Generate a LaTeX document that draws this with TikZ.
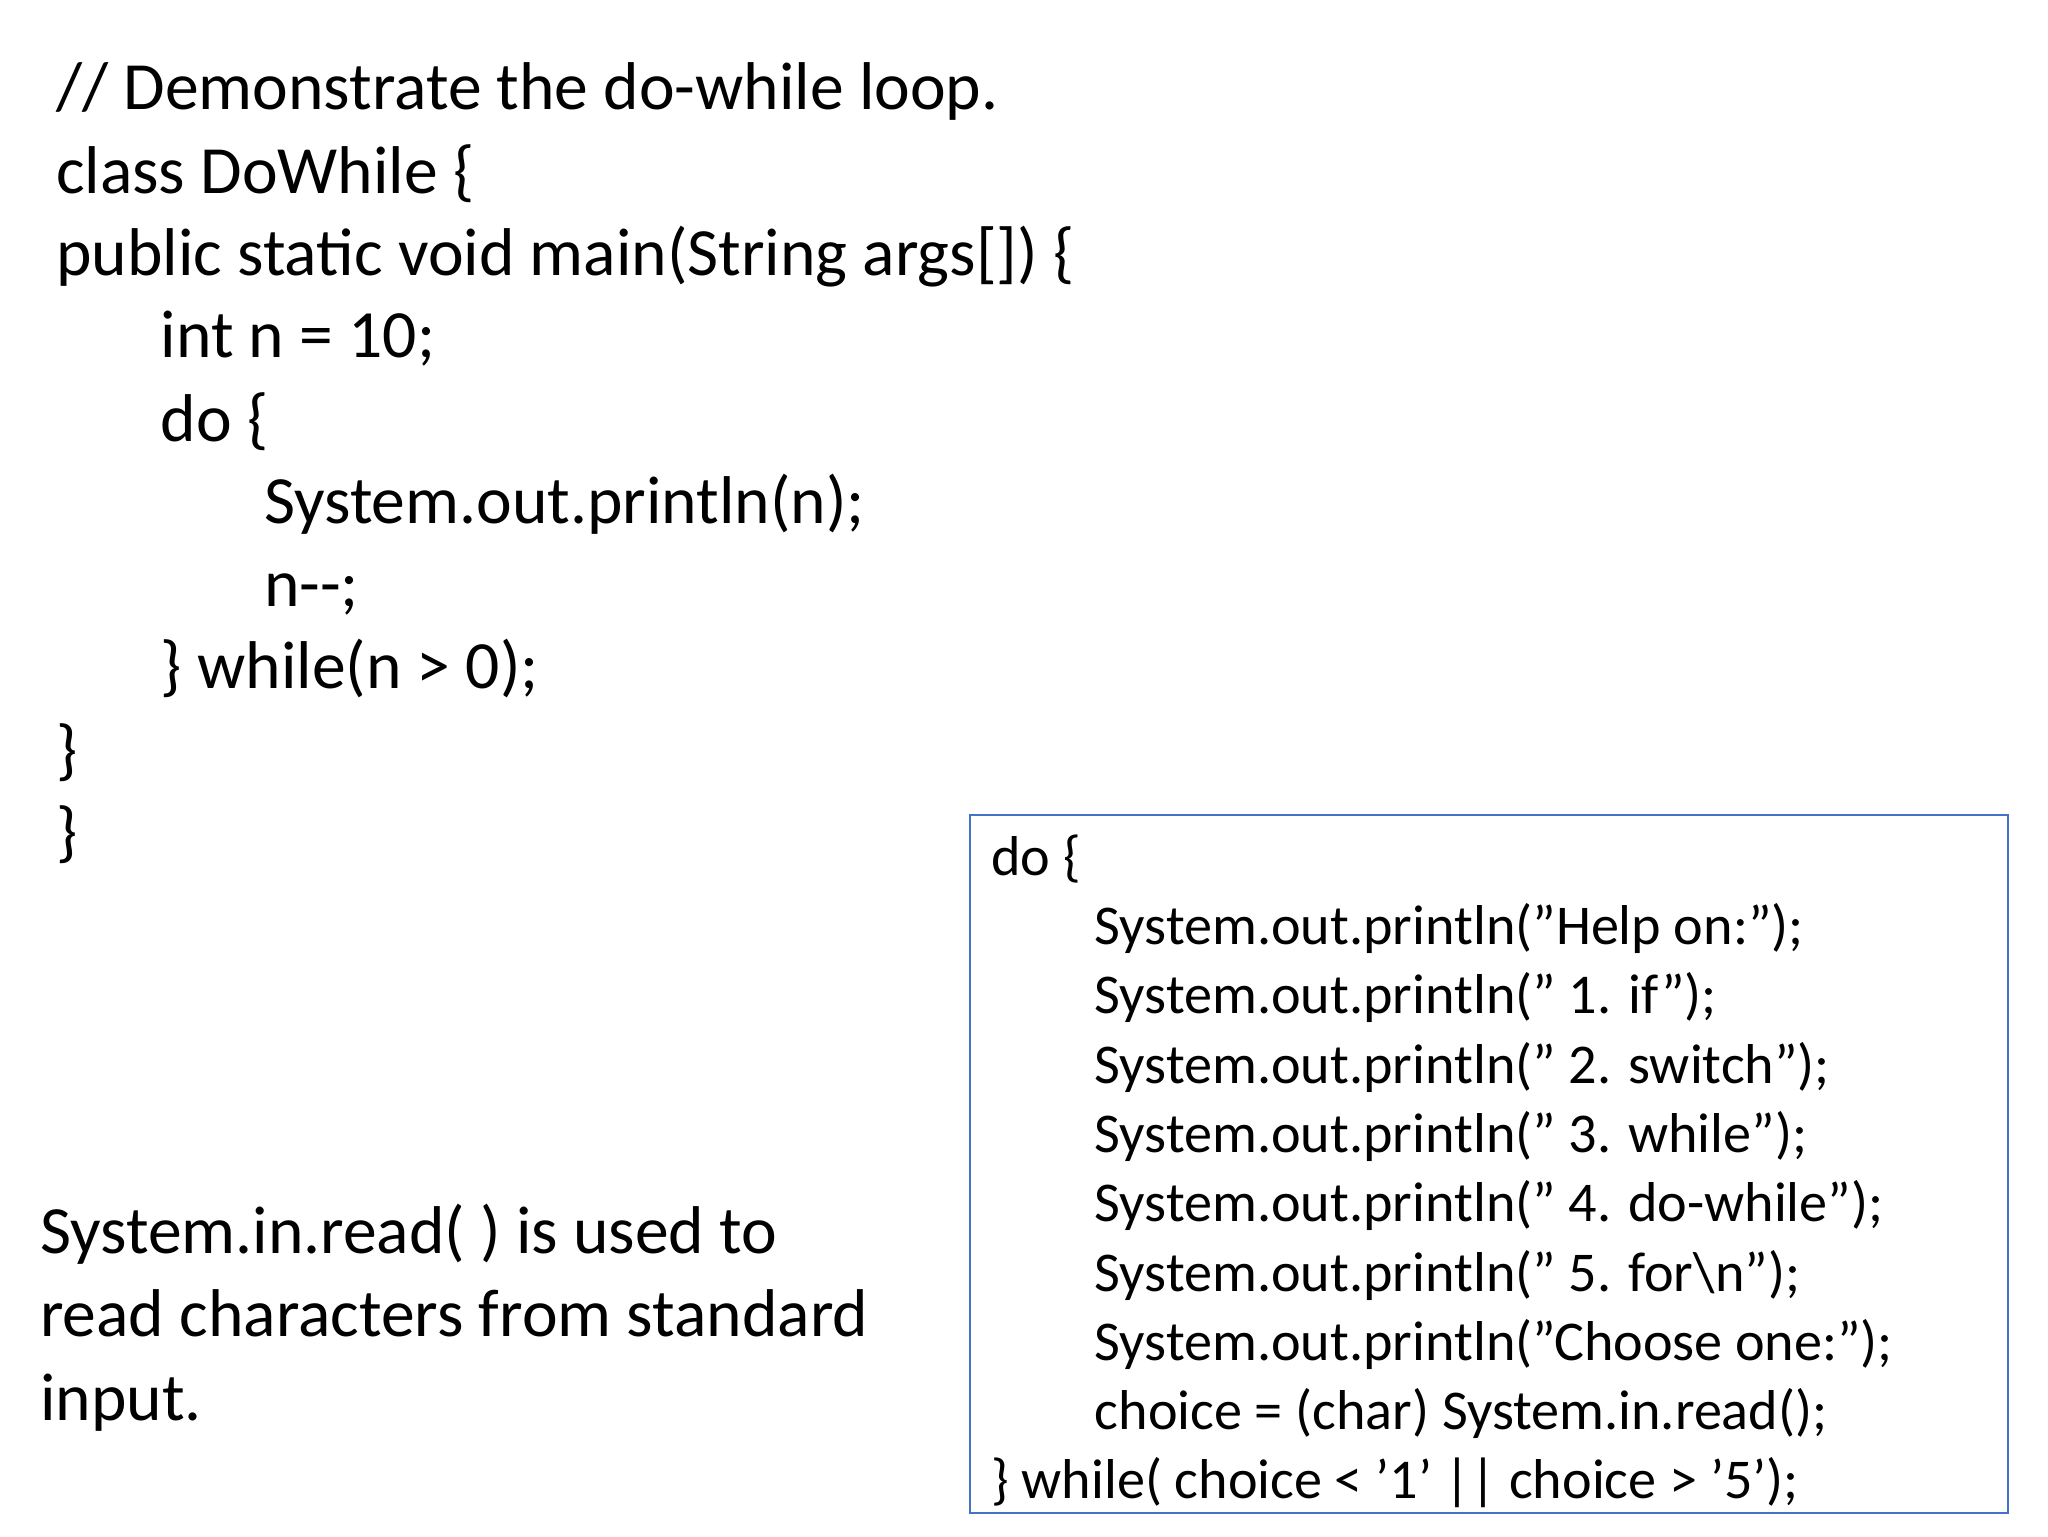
\documentclass[tikz,border=0pt]{standalone}
\usepackage{fontspec}
\setmainfont{Carlito}
\newcommand{\dq}{\char"22\relax}
\newcommand{\sq}{\char"27\relax}
\begin{document}
\begin{tikzpicture}[x=0.5pt,y=-0.5pt,
  big/.style={anchor=base west,inner sep=0pt,font=\fontsize{25.5}{30}\selectfont},
  small/.style={anchor=base west,inner sep=0pt,font=\fontsize{21.2}{25}\selectfont}]
\useasboundingbox[fill=white] (0,0) rectangle (1546,1160);
\node[big] (l1) at (42,83) {// Demonstrate the do-while loop.};
\node[big] (l2) at (42,146) {class DoWhile \{};
\node[big] (l3) at (42,208) {public static void main(String args[]) \{};
\node[big] (l4) at (121,270) {int n = 10;};
\node[big] (l5) at (121,333) {do \{};
\node[big] (l6) at (199,395) {System.out.println(n);};
\node[big] (l7) at (199,458) {n-{}-;};
\node[big] (l8) at (121,520) {\} while(n > 0);};
\node[big] (l9) at (42,583) {\}};
\node[big] (l10) at (42,645) {\}};
\node[big] (t1) at (30,946) {System.in.read( ) is used to};
\node[big] (t2) at (30,1009) {read characters from standard};
\node[big] (t3) at (30,1072) {input.};
\draw[draw={rgb,255:red,68;green,114;blue,196},line width=0.8pt] (732,615) rectangle (1516,1142);
\node[small] (b1) at (748,661) {do \{};
\node[small] (b2) at (826,713) {System.out.println(\dq Help on:\dq);};
\node[small] (b3) at (826,765) {System.out.println(\dq{} 1. if\dq);};
\node[small] (b4) at (826,818) {System.out.println(\dq{} 2. switch\dq);};
\node[small] (b5) at (826,870) {System.out.println(\dq{} 3. while\dq);};
\node[small] (b6) at (826,922) {System.out.println(\dq{} 4. do-while\dq);};
\node[small] (b7) at (826,975) {System.out.println(\dq{} 5. for\textbackslash n\dq);};
\node[small] (b8) at (826,1027) {System.out.println(\dq Choose one:\dq);};
\node[small] (b9) at (826,1079) {choice = (char) System.in.read();};
\node[small] (b10) at (748,1131) {\} while( choice < \sq 1\sq{} || choice > \sq 5\sq);};
\end{tikzpicture}
\end{document}
